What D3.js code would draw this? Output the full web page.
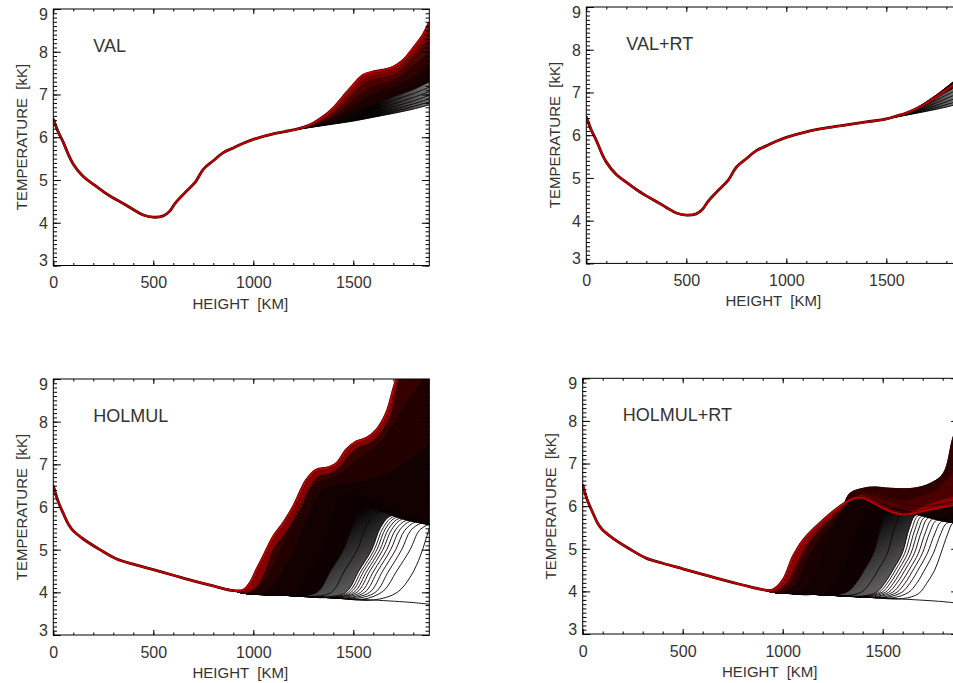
<!DOCTYPE html>
<html>
<head>
<meta charset="utf-8">
<script src="https://cdn.jsdelivr.net/npm/d3@7"></script>
<style>
  body { margin: 0; background: #fff; }
  text { font-family: "Liberation Sans", Arial, sans-serif; fill: #333; }
</style>
</head>
<body>
<div id="chart"></div>
<script>
const HEIGHT_TICKS = [0, 500, 1000, 1500]
const TEMP_TICKS = [3, 4, 5, 6, 7, 8, 9]
const PANEL_LABELS = ['VAL', 'VAL+RT', 'HOLMUL', 'HOLMUL+RT']
const X_TITLE = 'HEIGHT  [KM]'
const Y_TITLE = 'TEMPERATURE  [kK]'

// initial atmosphere, [height km, temperature kK]
const valBase = [[0, 6.43], [25, 6.12], [50, 5.88], [75, 5.6], [100, 5.37], [150, 5.08], [200, 4.9],
  [250, 4.73], [300, 4.58], [350, 4.45], [400, 4.31], [450, 4.18], [500, 4.13], [550, 4.16],
  [580, 4.26], [610, 4.46], [660, 4.71], [710, 4.95], [750, 5.25], [800, 5.45], [850, 5.64],
  [900, 5.75], [950, 5.86], [1000, 5.95], [1100, 6.08], [1200, 6.17], [1300, 6.24],
  [1400, 6.31], [1500, 6.38], [1600, 6.47], [1700, 6.56], [1800, 6.66], [1880, 6.76]]

const holmulBase = [[0, 6.5], [25, 6.12], [50, 5.85], [75, 5.6], [100, 5.44], [150, 5.25], [233, 5.0],
  [317, 4.78], [400, 4.66], [500, 4.53], [600, 4.4], [700, 4.27], [800, 4.15], [900, 4.04],
  [950, 3.98], [1000, 3.96], [1200, 3.92], [1400, 3.87], [1600, 3.82], [1800, 3.76], [1880, 3.72]]

// later profiles, only the part that leaves the initial atmosphere
const valCurves = [
  [],
  [[1300, 6.25], [1400, 6.32], [1500, 6.40], [1600, 6.50], [1700, 6.60], [1800, 6.72], [1880, 6.83]],
  [[1300, 6.25], [1400, 6.33], [1500, 6.42], [1600, 6.53], [1700, 6.65], [1800, 6.78], [1880, 6.90]],
  [[1300, 6.26], [1400, 6.34], [1500, 6.45], [1600, 6.57], [1700, 6.71], [1800, 6.85], [1880, 6.98]],
  [[1300, 6.26], [1400, 6.36], [1500, 6.48], [1600, 6.62], [1700, 6.78], [1800, 6.93], [1880, 7.07]],
  [[1300, 6.27], [1400, 6.38], [1500, 6.52], [1600, 6.68], [1700, 6.86], [1800, 7.02], [1880, 7.17]],
  [[1300, 6.27], [1400, 6.40], [1500, 6.57], [1600, 6.76], [1700, 6.95], [1800, 7.12], [1880, 7.30]],
  [[1300, 6.28], [1400, 6.43], [1500, 6.65], [1600, 6.88], [1700, 7.07], [1800, 7.26], [1880, 7.48]],
  [[1300, 6.29], [1400, 6.47], [1500, 6.76], [1600, 7.04], [1700, 7.20], [1800, 7.45], [1880, 7.75]],
  [[1300, 6.30], [1400, 6.52], [1450, 6.70], [1500, 6.90], [1550, 7.10], [1600, 7.22], [1700, 7.35], [1800, 7.70], [1880, 8.05]],
  [[1300, 6.31], [1350, 6.42], [1400, 6.58], [1450, 6.80], [1500, 7.05], [1550, 7.28], [1600, 7.38], [1700, 7.48], [1800, 7.90], [1880, 8.35]],
  [[1300, 6.32], [1350, 6.45], [1400, 6.63], [1450, 6.88], [1500, 7.15], [1550, 7.38], [1600, 7.47], [1650, 7.52], [1700, 7.58], [1750, 7.75], [1800, 8.0], [1850, 8.3], [1880, 8.55]],
  [[1250, 6.23], [1300, 6.33], [1350, 6.48], [1400, 6.68], [1450, 6.95], [1500, 7.22], [1550, 7.45], [1600, 7.53], [1650, 7.57], [1700, 7.64], [1750, 7.8], [1800, 8.08], [1850, 8.4], [1880, 8.68]]
]
const valTimes = [0, 0.02, 0.04, 0.06, 0.08, 0.1, 0.12, 0.15, 0.25, 0.4, 0.6, 0.8, 1]

const valRtCurves = [
  [],
  [[1550, 6.43], [1650, 6.53], [1750, 6.65], [1880, 6.83]],
  [[1550, 6.43], [1650, 6.55], [1750, 6.70], [1880, 6.92]],
  [[1550, 6.44], [1650, 6.57], [1750, 6.76], [1880, 7.02]],
  [[1550, 6.44], [1650, 6.59], [1750, 6.82], [1880, 7.12]],
  [[1550, 6.45], [1650, 6.61], [1750, 6.88], [1880, 7.22]],
  [[1550, 6.45], [1600, 6.52], [1650, 6.63], [1700, 6.78], [1750, 6.94], [1800, 7.12], [1880, 7.42]],
  [[1550, 6.45], [1600, 6.52], [1650, 6.62], [1700, 6.75], [1750, 6.9], [1800, 7.06], [1880, 7.33]]
]
const valRtTimes = [0, 0.02, 0.04, 0.06, 0.08, 0.12, 0.2, 1]

const holmulCurves = [
  [],
  [[1600, 3.82], [1720, 4.0], [1790, 4.4], [1835, 4.85], [1860, 5.2], [1880, 5.5]],
  [[1550, 3.84], [1650, 4.03], [1717, 4.5], [1784, 5.0], [1830, 5.45], [1880, 5.6]],
  [[1500, 3.85], [1610, 4.0], [1677, 4.5], [1742, 5.0], [1787, 5.45], [1840, 5.62], [1880, 5.6]],
  [[1470, 3.86], [1582, 4.0], [1647, 4.5], [1712, 5.0], [1757, 5.45], [1812, 5.65], [1880, 5.6]],
  [[1445, 3.86], [1557, 4.0], [1622, 4.5], [1687, 5.0], [1732, 5.46], [1787, 5.67], [1880, 5.6]],
  [[1425, 3.87], [1537, 4.0], [1602, 4.5], [1667, 5.0], [1712, 5.47], [1767, 5.69], [1880, 5.6]],
  [[1405, 3.87], [1518, 4.0], [1583, 4.5], [1648, 5.0], [1693, 5.48], [1748, 5.72], [1880, 5.6]],
  [[1390, 3.88], [1503, 4.0], [1568, 4.5], [1633, 5.0], [1678, 5.5], [1733, 5.74], [1880, 5.6]],
  [[1375, 3.88], [1488, 4.0], [1553, 4.5], [1618, 5.0], [1663, 5.51], [1718, 5.76], [1880, 5.6]],
  [[1365, 3.88], [1475, 4.0], [1540, 4.5], [1605, 5.0], [1650, 5.52], [1705, 5.78], [1880, 5.6]],
  [[1350, 3.89], [1462, 4.0], [1527, 4.5], [1592, 5.0], [1637, 5.53], [1692, 5.8], [1880, 5.6]],
  [[1280, 3.9], [1390, 4.0], [1455, 4.5], [1520, 5.0], [1565, 5.55], [1620, 5.88], [1700, 5.8], [1880, 5.6]],
  [[1210, 3.91], [1320, 4.01], [1385, 4.5], [1450, 5.0], [1495, 5.55], [1550, 5.95], [1650, 5.88], [1750, 5.72], [1880, 5.58]],
  [[1100, 3.93], [1200, 4.05], [1270, 4.5], [1330, 5.0], [1380, 5.6], [1430, 6.35], [1500, 6.35], [1600, 6.2], [1700, 6.0], [1800, 5.8], [1880, 5.7]],
  [[1000, 3.96], [1080, 4.1], [1140, 4.5], [1200, 5.0], [1250, 5.6], [1300, 6.1], [1350, 6.45], [1420, 6.55], [1500, 6.6], [1600, 6.7], [1700, 6.9], [1800, 7.2], [1880, 7.5]],
  [[965, 3.98], [1030, 4.15], [1085, 4.55], [1130, 5.0], [1180, 5.5], [1240, 6.1], [1295, 6.5], [1350, 6.65], [1400, 6.72], [1460, 6.92], [1540, 7.22], [1620, 7.48], [1700, 8.0], [1780, 8.6], [1880, 9.2]],
  [[960, 3.99], [1010, 4.12], [1055, 4.5], [1095, 5.0], [1140, 5.3], [1185, 5.6], [1235, 6.0], [1285, 6.5], [1330, 6.75], [1375, 6.8], [1425, 6.93], [1475, 7.22], [1525, 7.42], [1575, 7.5], [1625, 7.7], [1675, 8.08], [1705, 8.6], [1735, 9.2], [1880, 10]],
  [[950, 4.05], [983, 4.21], [1016, 4.52], [1050, 4.83], [1100, 5.30], [1150, 5.62], [1200, 6.0], [1266, 6.63], [1316, 6.87], [1366, 6.91], [1416, 7.02], [1466, 7.34], [1516, 7.53], [1566, 7.61], [1616, 7.8], [1666, 8.2], [1700, 8.74], [1716, 9.0], [1740, 9.6], [1880, 10]]
]
const holmulTimes = [0, 0.01, 0.015, 0.02, 0.025, 0.03, 0.035, 0.04, 0.045, 0.05, 0.055, 0.06, 0.07, 0.08, 0.1, 0.18, 0.28, 0.7, 1]

const holmulRtCurves = [
  [],
  [[1600, 3.83], [1680, 3.95], [1720, 4.19], [1760, 4.5], [1791, 4.89], [1825, 5.35], [1850, 5.6], [1880, 5.62]],
  [[1550, 3.85], [1630, 3.98], [1670, 4.19], [1715, 4.55], [1753, 4.89], [1790, 5.35], [1820, 5.6], [1880, 5.6]],
  [[1520, 3.86], [1596, 3.98], [1636, 4.19], [1683, 4.55], [1723, 4.89], [1760, 5.35], [1795, 5.64], [1880, 5.6]],
  [[1495, 3.86], [1571, 3.98], [1611, 4.19], [1658, 4.55], [1698, 4.89], [1735, 5.38], [1770, 5.67], [1880, 5.6]],
  [[1475, 3.87], [1550, 3.98], [1590, 4.19], [1638, 4.55], [1678, 4.89], [1715, 5.4], [1750, 5.7], [1880, 5.6]],
  [[1455, 3.87], [1530, 3.98], [1570, 4.19], [1618, 4.55], [1658, 4.89], [1695, 5.42], [1730, 5.73], [1880, 5.6]],
  [[1438, 3.88], [1513, 3.98], [1553, 4.19], [1601, 4.55], [1641, 4.89], [1678, 5.44], [1713, 5.75], [1880, 5.6]],
  [[1422, 3.88], [1497, 3.98], [1537, 4.19], [1585, 4.55], [1625, 4.89], [1662, 5.46], [1697, 5.77], [1880, 5.6]],
  [[1407, 3.88], [1482, 3.98], [1522, 4.19], [1570, 4.55], [1610, 4.89], [1647, 5.48], [1682, 5.79], [1880, 5.6]],
  [[1394, 3.89], [1469, 3.98], [1509, 4.19], [1557, 4.55], [1597, 4.89], [1634, 5.5], [1669, 5.8], [1880, 5.6]],
  [[1320, 3.9], [1395, 3.99], [1435, 4.19], [1483, 4.55], [1523, 4.89], [1560, 5.5], [1600, 5.86], [1700, 5.78], [1880, 5.6]],
  [[1250, 3.91], [1325, 4.0], [1365, 4.19], [1413, 4.55], [1453, 4.89], [1490, 5.5], [1530, 5.92], [1600, 5.88], [1700, 5.77], [1800, 5.65], [1880, 5.6]],
  [[1150, 3.93], [1230, 4.05], [1290, 4.5], [1330, 5.0], [1370, 5.5], [1420, 5.95], [1480, 6.05], [1560, 5.95], [1650, 5.85], [1750, 5.8], [1880, 5.75]],
  [[1030, 3.96], [1100, 4.1], [1160, 4.5], [1200, 5.0], [1250, 5.5], [1310, 6.0], [1370, 6.25], [1430, 6.3], [1500, 6.2], [1600, 6.05], [1700, 6.0], [1800, 6.05], [1880, 6.15]],
  [[990, 3.98], [1050, 4.15], [1110, 4.7], [1160, 5.1], [1215, 5.45], [1290, 5.88], [1336, 6.3], [1403, 6.42], [1453, 6.45], [1536, 6.42], [1653, 6.42], [1736, 6.53], [1803, 6.77], [1850, 7.59], [1880, 8.0]],
  [[965, 3.99], [1030, 4.2], [1090, 4.75], [1135, 5.15], [1200, 5.5], [1295, 5.92], [1350, 6.2], [1400, 6.3], [1460, 6.3], [1530, 6.18], [1600, 6.12], [1680, 6.2], [1760, 6.35], [1820, 6.6], [1880, 7.0]],
  [[958, 4.0], [1015, 4.2], [1070, 4.7], [1118, 5.12], [1195, 5.55], [1292, 5.96], [1360, 6.2], [1395, 6.24], [1440, 6.16], [1500, 6.0], [1570, 5.85], [1620, 5.82], [1690, 5.95], [1770, 6.1], [1850, 6.2], [1880, 6.25]],
  [[950, 4.03], [1003, 4.27], [1053, 4.82], [1103, 5.2], [1186, 5.6], [1286, 5.99], [1353, 6.18], [1395, 6.2], [1436, 6.12], [1486, 5.99], [1553, 5.85], [1603, 5.8], [1670, 5.85], [1737, 5.92], [1800, 5.98], [1851, 6.02], [1880, 6.05]]
]
const holmulRtTimes = [0, 0.01, 0.015, 0.02, 0.025, 0.03, 0.035, 0.04, 0.045, 0.05, 0.055, 0.07, 0.08, 0.1, 0.14, 0.25, 0.4, 0.75, 1]

const W = 953
const H = 683
const PLOT_W = 376
const RED = '#c00000'

// bands [from, to) that look grey because the thin lines crowd together,
// shaded with a ramp from (km, kK) to (km, kK)
const panels = [
  { label: PANEL_LABELS[0], base: valBase, curves: valCurves, times: valTimes, fillFrom: 7,
    grey: [1, 7], ramp: [[1620, 7], [1880, 7], '#000', '#7a7a7a'], box: { x: 53.3, y: 9, h: 256.5 } },
  { label: PANEL_LABELS[1], base: valBase, curves: valRtCurves, times: valRtTimes, fillFrom: 6,
    grey: [1, 6], ramp: [[1620, 7], [1880, 7], '#111', '#8a8a8a'], box: { x: 586.3, y: 7, h: 256.4 } },
  { label: PANEL_LABELS[2], base: holmulBase, curves: holmulCurves, times: holmulTimes, fillFrom: 14,
    grey: [12, 14], ramp: [[1420, 5.6], [1620, 4.2], '#000', '#6c6c6c'], box: { x: 53.3, y: 379, h: 256 } },
  { label: PANEL_LABELS[3], base: holmulBase, curves: holmulRtCurves, times: holmulRtTimes, fillFrom: 13,
    grey: [11, 13], ramp: [[1400, 5.6], [1600, 4.2], '#000', '#6c6c6c'], box: { x: 582.7, y: 378.3, h: 255.7 } },
]

const colour = d3.scaleLinear().domain([0, 1]).range(['#000000', RED]).interpolate(d3.interpolateRgb)

function fullCurve (base, pts) {
  if (!pts.length) return base
  const start = pts[0][0]
  return base.filter(d => d[0] < start).concat(pts)
}

function drawPanel (svg, defs, p, idx) {
  const box = p.box
  const x = d3.scaleLinear().domain([0, 1880]).range([box.x, box.x + PLOT_W])
  const y = d3.scaleLinear().domain([3, 9]).range([box.y + box.h, box.y])

  const clipId = 'clip' + idx
  defs.append('clipPath').attr('id', clipId)
    .append('rect')
    .attr('x', box.x).attr('y', box.y)
    .attr('width', PLOT_W).attr('height', box.h)

  const rampId = 'ramp' + idx
  const grad = defs.append('linearGradient').attr('id', rampId)
    .attr('gradientUnits', 'userSpaceOnUse')
    .attr('x1', x(p.ramp[0][0])).attr('y1', y(p.ramp[0][1]))
    .attr('x2', x(p.ramp[1][0])).attr('y2', y(p.ramp[1][1]))
  grad.append('stop').attr('offset', 0).attr('stop-color', p.ramp[2])
  grad.append('stop').attr('offset', 1).attr('stop-color', p.ramp[3])

  const plot = svg.append('g').attr('clip-path', `url(#${clipId})`)
  const line = d3.line()
    .x(d => x(d[0]))
    .y(d => y(d[1]))
    .curve(d3.curveCatmullRom.alpha(0.5))

  const full = p.curves.map(c => fullCurve(p.base, c))
  const last = full.length - 1

  const band = (k, fill) => {
    const upper = line(full[k])
    const lower = line(full[k - 1].slice().reverse())
    plot.append('path')
      .attr('d', upper + 'L' + lower.slice(1) + 'Z')
      .attr('fill', fill)
      .attr('stroke', fill)
      .attr('stroke-width', 0.6)
  }

  for (let k = p.grey[0]; k < p.grey[1]; k++) band(k, `url(#${rampId})`)
  for (let k = p.fillFrom; k <= last; k++) band(k, colour(p.times[k - 1]))

  full.forEach((c, k) => {
    if (k === last) return
    plot.append('path')
      .attr('d', line(c))
      .attr('fill', 'none')
      .attr('stroke', colour(p.times[k]))
      .attr('stroke-width', 0.9)
  })

  plot.append('path')
    .attr('d', line(full[last]))
    .attr('fill', 'none')
    .attr('stroke', '#200000')
    .attr('stroke-width', 2.8)
  plot.append('path')
    .attr('d', line(full[last]))
    .attr('fill', 'none')
    .attr('stroke', colour(p.times[last]))
    .attr('stroke-width', 2)

  // axes, ticks point inward on all four sides
  const xMinor = x.ticks(19)
  const yMinor = y.ticks(60)
  const bottom = box.y + box.h
  const right = box.x + PLOT_W
  const fmt = d3.format('d')

  const ax = svg.append('g').attr('class', 'axes')
  const addAxis = (gen, tx, ty) => {
    const a = ax.append('g').attr('transform', `translate(${tx},${ty})`).call(gen)
    a.select('.domain').remove()
    a.selectAll('line').attr('stroke', '#000').attr('stroke-width', 1)
    return a
  }

  addAxis(d3.axisBottom(x).tickValues(xMinor).tickSize(-2.5).tickFormat(''), 0, bottom)
  addAxis(d3.axisTop(x).tickValues(xMinor).tickSize(-2.5).tickFormat(''), 0, box.y)
  const xb = addAxis(d3.axisBottom(x).tickValues(HEIGHT_TICKS).tickSize(-5).tickPadding(11.5).tickFormat(fmt), 0, bottom)
  addAxis(d3.axisTop(x).tickValues(HEIGHT_TICKS).tickSize(-5).tickFormat(''), 0, box.y)

  addAxis(d3.axisLeft(y).tickValues(yMinor).tickSize(-3.75).tickFormat(''), box.x, 0)
  addAxis(d3.axisRight(y).tickValues(yMinor).tickSize(-3.75).tickFormat(''), right, 0)
  const yl = addAxis(d3.axisLeft(y).tickValues(TEMP_TICKS).tickSize(-7.5).tickPadding(5.5).tickFormat(fmt), box.x, 0)
  addAxis(d3.axisRight(y).tickValues(TEMP_TICKS).tickSize(-7.5).tickFormat(''), right, 0)

  xb.selectAll('text').attr('font-size', 16).attr('font-family', null).attr('fill', '#333')
  yl.selectAll('text').attr('font-size', 16).attr('font-family', null).attr('fill', '#333')
    .attr('dy', d => d === 9 ? '0.65em' : d === 3 ? '0.02em' : '0.34em')

  ax.append('rect')
    .attr('x', box.x).attr('y', box.y)
    .attr('width', PLOT_W).attr('height', box.h)
    .attr('fill', 'none').attr('stroke', '#000').attr('stroke-width', 1)

  ax.append('text')
    .attr('x', box.x + 187).attr('y', bottom + 43)
    .attr('text-anchor', 'middle')
    .attr('font-size', 15)
    .style('white-space', 'pre')
    .text(X_TITLE)

  ax.append('text')
    .attr('transform', `translate(${box.x - 26.5},${box.y + 128}) rotate(-90)`)
    .attr('text-anchor', 'middle')
    .attr('font-size', 15)
    .style('white-space', 'pre')
    .text(Y_TITLE)

  ax.append('text')
    .attr('x', box.x + 40).attr('y', box.y + 43)
    .attr('font-size', 18)
    .text(p.label)
}

const svg = d3.select('#chart')
  .append('svg')
  .attr('width', W)
  .attr('height', H)
const defs = svg.append('defs')

panels.forEach((p, i) => drawPanel(svg, defs, p, i))
</script>
</body>
</html>
